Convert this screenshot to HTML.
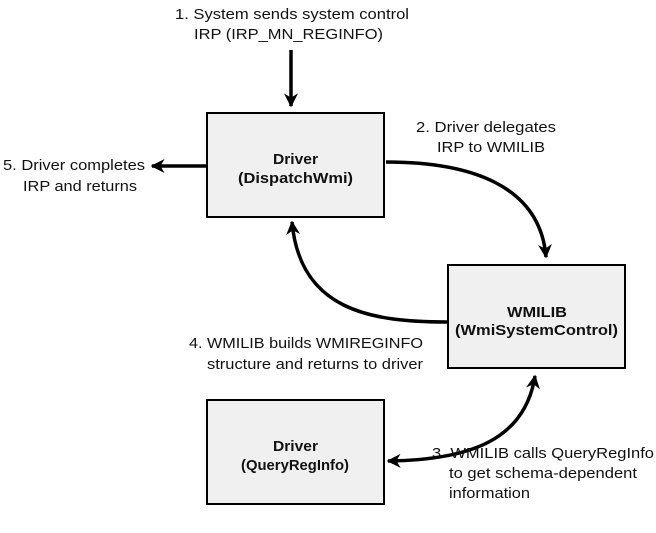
<!DOCTYPE html>
<html><head><style>
body{margin:0;width:656px;height:528px;background:#fff;overflow:hidden}
svg text{font-family:"Liberation Sans",sans-serif;font-size:15px;fill:#111}
.b{font-weight:bold}
</style></head><body>
<svg width="656" height="528" viewBox="0 0 656 528">
<defs>
<marker id="h" viewBox="0 0 10 10" refX="9" refY="5" markerWidth="16" markerHeight="14" orient="auto-start-reverse" markerUnits="userSpaceOnUse"><path d="M0,0 L10,5 L0,10 L3,5Z" fill="#000"/></marker></defs>
<g fill="#f0f0f0" stroke="#000" stroke-width="2">
<rect x="207" y="113" width="177" height="104"/>
<rect x="448" y="265" width="177" height="103"/>
<rect x="207" y="400" width="177" height="104"/>
</g>
<g stroke="#000" stroke-width="3.5" fill="none">
<path d="M291,50 L291,106" marker-end="url(#h)"/>
<path d="M206,166 L152,166" marker-end="url(#h)"/>
<path d="M386,162 C470,162 540,185 546,257" marker-end="url(#h)"/>
<path d="M447,322 C370,322 300,310 292,222" marker-end="url(#h)"/>
<path d="M535,376 C525,440 470,460 388,461" marker-start="url(#h)" marker-end="url(#h)"/>
</g>
<text class="b" x="273" y="164" textLength="45" lengthAdjust="spacingAndGlyphs">Driver</text>
<text class="b" x="238" y="183" textLength="115" lengthAdjust="spacingAndGlyphs">(DispatchWmi)</text>
<text class="b" x="507" y="317" textLength="60" lengthAdjust="spacingAndGlyphs">WMILIB</text>
<text class="b" x="455" y="335" textLength="163" lengthAdjust="spacingAndGlyphs">(WmiSystemControl)</text>
<text class="b" x="273" y="451" textLength="45" lengthAdjust="spacingAndGlyphs">Driver</text>
<text class="b" x="241" y="470" textLength="108" lengthAdjust="spacingAndGlyphs">(QueryRegInfo)</text>
<text x="175" y="19" textLength="234" lengthAdjust="spacingAndGlyphs">1. System sends system control</text>
<text x="194" y="39" textLength="189" lengthAdjust="spacingAndGlyphs">IRP (IRP_MN_REGINFO)</text>
<text x="416" y="132" textLength="140" lengthAdjust="spacingAndGlyphs">2. Driver delegates</text>
<text x="437" y="152" textLength="108" lengthAdjust="spacingAndGlyphs">IRP to WMILIB</text>
<text x="3" y="170" textLength="142" lengthAdjust="spacingAndGlyphs">5. Driver completes</text>
<text x="23" y="191" textLength="114" lengthAdjust="spacingAndGlyphs">IRP and returns</text>
<text x="189" y="348" textLength="234" lengthAdjust="spacingAndGlyphs">4. WMILIB builds WMIREGINFO</text>
<text x="207" y="369" textLength="216" lengthAdjust="spacingAndGlyphs">structure and returns to driver</text>
<text x="432" y="458" textLength="222" lengthAdjust="spacingAndGlyphs">3. WMILIB calls QueryRegInfo</text>
<text x="449" y="478" textLength="188" lengthAdjust="spacingAndGlyphs">to get schema-dependent</text>
<text x="449" y="498" textLength="81" lengthAdjust="spacingAndGlyphs">information</text>
</svg>
</body></html>
